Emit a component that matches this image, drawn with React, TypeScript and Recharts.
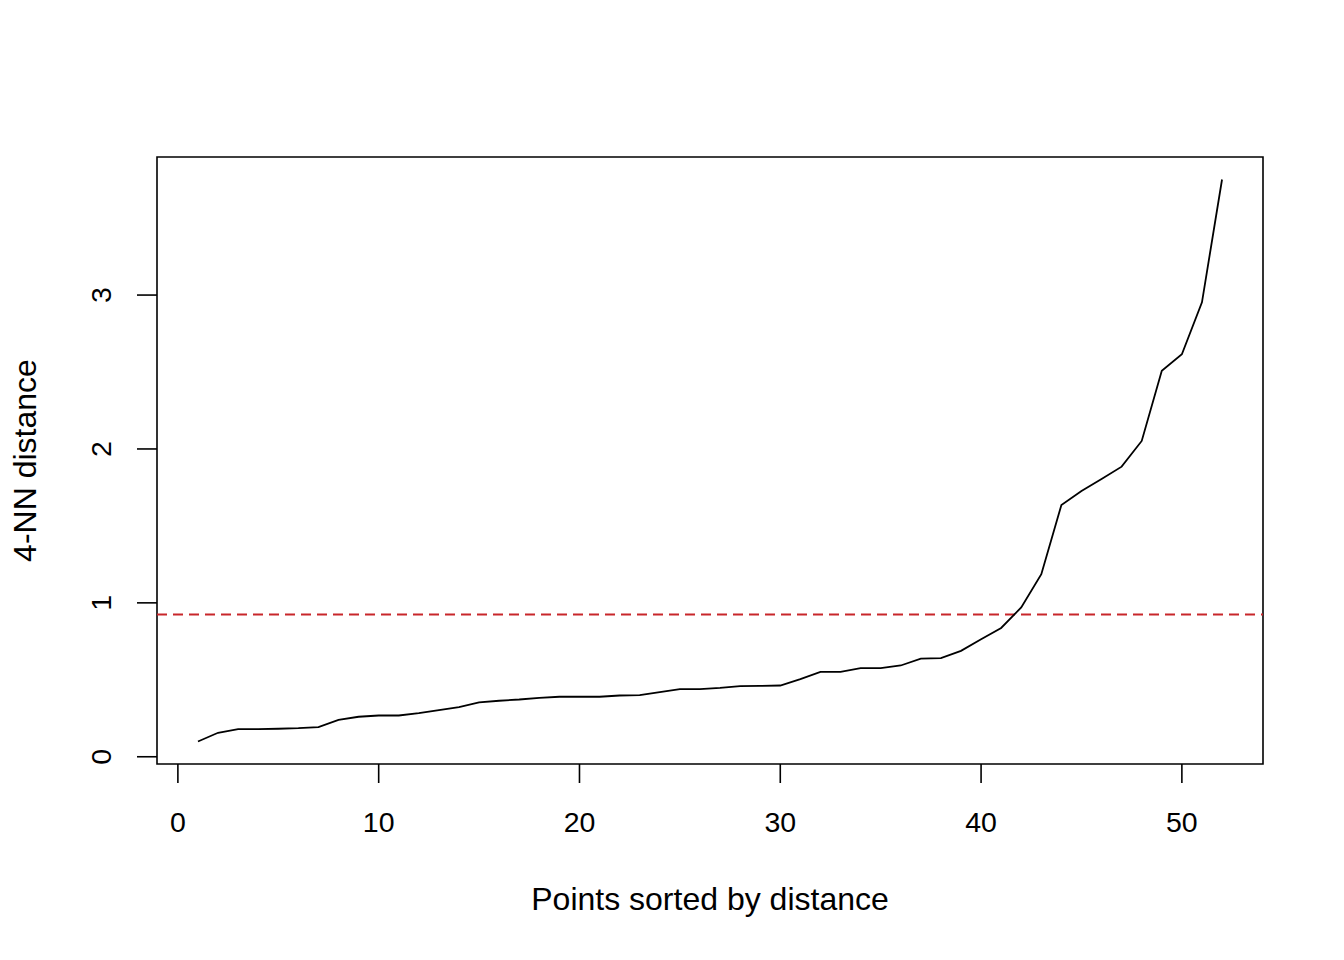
import { LineChart, Line, XAxis, YAxis, ReferenceLine, ReferenceArea, Label } from 'recharts';

// sorted 4-NN distances, one per point
const knnDist = [
  0.099, 0.156, 0.18, 0.18, 0.182, 0.186, 0.193, 0.24, 0.26, 0.268,
  0.268, 0.284, 0.303, 0.323, 0.353, 0.364, 0.372, 0.383, 0.39, 0.39,
  0.39, 0.398, 0.4, 0.42, 0.44, 0.44, 0.448, 0.459, 0.46, 0.463,
  0.505, 0.552, 0.552, 0.576, 0.576, 0.593, 0.638, 0.641, 0.688, 0.764,
  0.837, 0.97, 1.186, 1.636, 1.727, 1.805, 1.885, 2.052, 2.508, 2.615,
  2.953, 3.751,
];
const epsValue = 0.924;
const xTicks = [0, 10, 20, 30, 40, 50];
const yTicks = [0, 1, 2, 3];

const data = knnDist.map((d, i) => ({ idx: i + 1, dist: d }));

// R-style 4% padding on both axes
const pad = (lo: number, hi: number) => [lo - (hi - lo) * 0.04, hi + (hi - lo) * 0.04];
const xDomain = pad(1, knnDist.length);
const yDomain = pad(Math.min(...knnDist), Math.max(...knnDist));

const FONT = '"Liberation Sans", Arial, sans-serif';

const XTick = (props: any) => {
  const { x, y, payload } = props;
  return (
    <g>
      <line x1={x} y1={y} x2={x} y2={y + 19} stroke="#000" strokeWidth={1.6} />
      <text x={x} y={y + 68} textAnchor="middle" fontSize={28.5} fontFamily={FONT} fill="#000">
        {payload.value}
      </text>
    </g>
  );
};

const YTick = (props: any) => {
  const { x, y, payload } = props;
  return (
    <g>
      <line x1={x - 20} y1={y} x2={x} y2={y} stroke="#000" strokeWidth={1.6} />
      <text
        x={x - 46}
        y={y}
        transform={`rotate(-90, ${x - 46}, ${y})`}
        textAnchor="middle"
        fontSize={28.5}
        fontFamily={FONT}
        fill="#000"
      >
        {payload.value}
      </text>
    </g>
  );
};

export default function App() {
  return (
    <div style={{ position: 'absolute', left: 0, top: 0, background: '#fff' }}>
      <LineChart
        width={1344}
        height={960}
        data={data}
        margin={{ top: 157, right: 81, bottom: 0, left: 0 }}
      >
        <XAxis
          dataKey="idx"
          type="number"
          domain={xDomain}
          ticks={xTicks}
          height={196}
          axisLine={false}
          tickLine={false}
          tickSize={0}
          tickMargin={0}
          tick={<XTick />}
          allowDataOverflow
        >
          <Label
            content={(p: any) => {
              const vb = p.viewBox;
              return (
                <text
                  x={vb.x + vb.width / 2}
                  y={vb.y + 146}
                  textAnchor="middle"
                  fontSize={32}
                  fontFamily={FONT}
                  fill="#000"
                >
                  Points sorted by distance
                </text>
              );
            }}
          />
        </XAxis>
        <YAxis
          type="number"
          domain={yDomain}
          ticks={yTicks}
          width={157}
          axisLine={false}
          tickLine={false}
          tickSize={0}
          tickMargin={0}
          tick={<YTick />}
          allowDataOverflow
        >
          <Label
            content={(p: any) => {
              const vb = p.viewBox;
              const cy = vb.y + vb.height / 2;
              return (
                <text
                  x={36}
                  y={cy}
                  transform={`rotate(-90, 36, ${cy})`}
                  textAnchor="middle"
                  fontSize={32}
                  fontFamily={FONT}
                  fill="#000"
                >
                  4-NN distance
                </text>
              );
            }}
          />
        </YAxis>
        <ReferenceArea
          x1={xDomain[0]}
          x2={xDomain[1]}
          y1={yDomain[0]}
          y2={yDomain[1]}
          fill="none"
          fillOpacity={0}
          stroke="#000"
          strokeWidth={1.6}
          strokeOpacity={1}
          ifOverflow="visible"
        />
        <ReferenceLine y={epsValue} stroke="#C8262B" strokeWidth={2} strokeDasharray="10 6" />
        <Line
          type="linear"
          dataKey="dist"
          stroke="#000"
          strokeWidth={1.8}
          dot={false}
          isAnimationActive={false}
        />
      </LineChart>
    </div>
  );
}
